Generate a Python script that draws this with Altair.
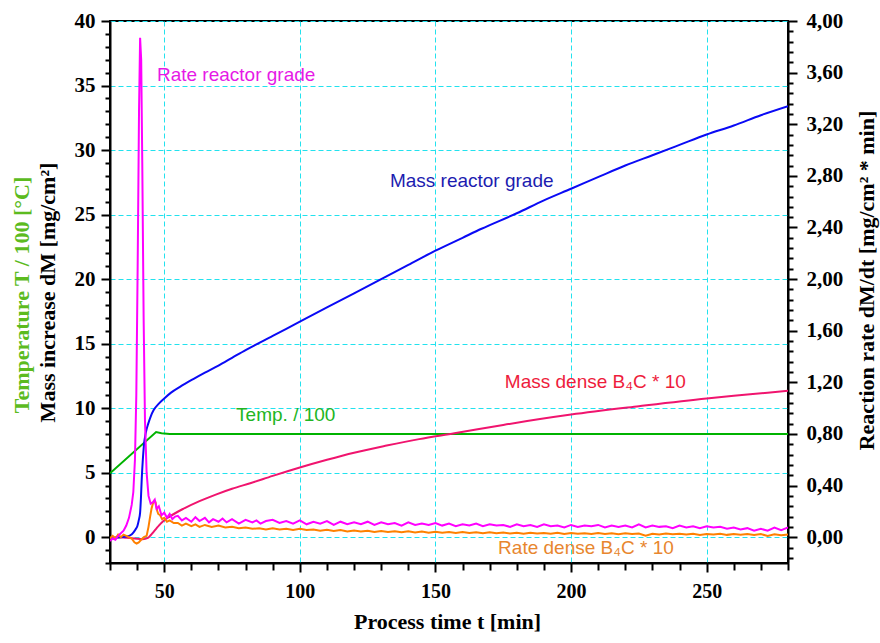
import altair as alt
import pandas as pd

# ---------------- data ----------------
# Mass reactor grade  [mg/cm^2]  (left axis)
MASS_RG = [(30, -0.1), (32, -0.05), (34, 0.0), (36, 0.05), (37.5, 0.15), (38.6, 0.36),
           (39.4, 0.6), (40.1, 0.87), (40.6, 1.3), (41.1, 1.9), (41.4, 3.0), (41.7, 4.5),
           (42.1, 6.0), (42.5, 7.1), (43.2, 8.1), (44.1, 8.8), (45, 9.35), (46.1, 9.85),
           (48, 10.35), (50, 10.75), (52.5, 11.2), (55.8, 11.65), (60.7, 12.25), (65, 12.75),
           (70, 13.3), (75, 13.9), (80, 14.5), (90, 15.6), (100, 16.7), (110, 17.8),
           (120, 18.9), (130, 20.0), (140, 21.1), (150, 22.2), (160, 23.2), (167, 23.9),
           (180, 25.1), (190, 26.1), (200, 27.0), (211, 28.0), (220, 28.8), (230, 29.6),
           (240, 30.4), (250, 31.2), (260, 31.9), (270, 32.7), (280, 33.4)]

# Temperature / 100 [°C]  (left axis)
TEMP = [(30, 4.95), (47, 8.15), (49, 8.05), (52, 8.0), (280, 8.0)]

# Mass dense B4C * 10  (left axis)
MASS_DENSE = [(30, -0.05), (33, 0.0), (36, -0.05), (39, -0.1), (42, -0.15), (44, -0.05),
              (45, 0.15), (46, 0.4), (47, 0.65), (48, 0.9), (49.7, 1.26), (52, 1.6),
              (57, 2.2), (63, 2.8), (69, 3.3), (75, 3.75), (82, 4.2), (90, 4.75),
              (100, 5.4), (110, 6.0), (120, 6.55), (132, 7.1), (144, 7.6), (157, 8.05),
              (175, 8.7), (200, 9.5), (225, 10.15), (250, 10.75), (265, 11.05), (280, 11.35)]

# Rate reactor grade [mg/cm^2*min]  (right axis)
RATE_RG = [(30, -0.03), (31, -0.01), (32, -0.02), (33, 0.01), (34, 0.03), (35, 0.05),
           (36, 0.09), (37, 0.15), (38, 0.25), (38.6, 0.35), (39.2, 0.6), (39.7, 1.1),
           (40.2, 2.1), (40.7, 3.3), (41.1, 3.87), (41.5, 3.7), (41.9, 2.9), (42.4, 1.7),
           (42.9, 0.9), (43.5, 0.5), (44.2, 0.32), (45, 0.26), (45.8, 0.27), (46.5, 0.29),
           (47.2, 0.22), (48, 0.24), (49, 0.17), (50, 0.19), (51, 0.15), (52, 0.18),
           (53, 0.14), (54, 0.16),
           (55, 0.165), (56.5, 0.13), (58, 0.15), (60, 0.12), (61.5, 0.155), (63, 0.125),
           (65, 0.15), (66.5, 0.115), (68, 0.14), (70, 0.12), (71.5, 0.145), (73, 0.115),
           (75, 0.14), (77.5, 0.105), (80, 0.135), (82.5, 0.115), (84, 0.13), (85.5, 0.105),
           (87.5, 0.125), (90, 0.135), (92.5, 0.11), (95, 0.125), (97.5, 0.105),
           (100, 0.13), (102.5, 0.10), (105, 0.12), (107.5, 0.105), (110, 0.125), (112.5, 0.095),
           (115, 0.12), (117.5, 0.10), (120, 0.115), (122.5, 0.10), (125, 0.12), (127.5, 0.095),
           (130, 0.115), (132.5, 0.10), (135, 0.11), (137.5, 0.09), (140, 0.115), (142.5, 0.095),
           (145, 0.105), (147.5, 0.095), (150, 0.11), (152.5, 0.09), (155, 0.105), (157.5, 0.085),
           (160, 0.10), (162.5, 0.09), (165, 0.105), (167.5, 0.085), (170, 0.10), (172.5, 0.09),
           (175, 0.095), (177.5, 0.08), (180, 0.10), (182.5, 0.085), (185, 0.095), (187.5, 0.08),
           (190, 0.10), (192.5, 0.085), (195, 0.09), (197.5, 0.075), (200, 0.095), (202.5, 0.08),
           (205, 0.09), (207.5, 0.085), (210, 0.095), (212.5, 0.075), (215, 0.09), (217.5, 0.08),
           (220, 0.09), (222.5, 0.075), (225, 0.10), (227.5, 0.075), (230, 0.09), (232.5, 0.08),
           (235, 0.085), (237.5, 0.07), (240, 0.09), (242.5, 0.075), (245, 0.085), (247.5, 0.07),
           (250, 0.085), (252.5, 0.075), (255, 0.08), (257.5, 0.065), (260, 0.075), (262.5, 0.06),
           (265, 0.07), (267.5, 0.05), (270, 0.065), (272.5, 0.05), (275, 0.075), (277.5, 0.055),
           (280, 0.075)]

# Rate dense B4C * 10  (right axis)
RATE_DENSE = [(30, -0.01), (31, 0.01), (32, -0.01), (33, 0.02), (34, 0.0), (35, 0.02),
              (36, 0.01), (37, 0.0), (38, -0.01), (39, -0.04), (39.8, -0.05), (40.6, -0.04),
              (41.5, -0.02), (42.5, 0.0), (43.5, 0.01), (44.2, 0.08), (44.8, 0.16), (45.3, 0.22),
              (45.8, 0.26), (46.3, 0.28), (46.8, 0.27), (47.3, 0.21), (47.8, 0.18), (48.5, 0.17),
              (49.2, 0.14), (50, 0.15), (51, 0.12), (52, 0.13), (53.5, 0.11),
              (55, 0.11), (56.5, 0.09), (58, 0.105), (60, 0.085), (61.5, 0.10), (63, 0.08),
              (65, 0.095), (67.5, 0.08), (70, 0.09), (72.5, 0.075), (75, 0.08), (77.5, 0.07),
              (80, 0.075), (82.5, 0.065), (85, 0.07), (87.5, 0.06), (90, 0.07), (92.5, 0.06),
              (95, 0.065), (97.5, 0.055),
              (100, 0.065), (102.5, 0.055), (105, 0.06), (107.5, 0.05), (110, 0.058), (112.5, 0.048),
              (115, 0.055), (117.5, 0.045), (120, 0.052), (122.5, 0.045), (125, 0.05), (127.5, 0.04),
              (130, 0.048), (132.5, 0.04), (135, 0.046), (137.5, 0.038), (140, 0.045), (142.5, 0.036),
              (145, 0.044), (147.5, 0.035), (150, 0.042), (152.5, 0.034), (155, 0.04), (157.5, 0.032),
              (160, 0.04), (162.5, 0.032), (165, 0.038), (167.5, 0.03), (170, 0.038), (172.5, 0.03),
              (175, 0.036), (177.5, 0.028), (180, 0.035), (182.5, 0.027), (185, 0.034), (187.5, 0.028),
              (190, 0.033), (192.5, 0.026), (195, 0.034), (197.5, 0.025), (200, 0.033), (202.5, 0.026),
              (205, 0.031), (207.5, 0.024), (210, 0.032), (212.5, 0.025), (215, 0.03), (217.5, 0.022),
              (220, 0.03), (222.5, 0.024), (225, 0.028), (227.5, 0.012), (230, 0.026), (232.5, 0.02),
              (235, 0.028), (237.5, 0.022), (240, 0.027), (242.5, 0.02), (245, 0.026), (247.5, 0.018),
              (250, 0.025), (252.5, 0.02), (255, 0.026), (257.5, 0.018), (260, 0.024), (262.5, 0.019),
              (265, 0.025), (267.5, 0.017), (270, 0.024), (272.5, 0.01), (275, 0.022), (277.5, 0.015),
              (280, 0.02)]

# annotation labels: (text, t, value on left axis, colour)
LABELS = [("Rate reactor grade", 47.3, 35.8, "#e619e6"),
          ("Mass reactor grade", 133.2, 27.6, "#1c1cb0"),
          ("Temp. / 100", 76.5, 9.5, "#22b522"),
          ("Mass dense B\u2084C * 10", 175.6, 12.0, "#ee1c3c"),
          ("Rate dense B\u2084C * 10", 173.1, -0.85, "#e8862e")]

X_TICKS = list(range(30, 281, 10))
Y_LEFT_TICKS = list(range(-2, 41))
Y_RIGHT_TICKS = [round(-0.16 + 0.08 * i, 2) for i in range(53)]

X_TITLE = "Process time t [min]"
Y_LEFT_TITLE = "Mass increase dM  [mg/cm\u00b2]"
Y_TEMP_TITLE = "Temperature T / 100 [\u00b0C]"
Y_RIGHT_TITLE = "Reaction rate dM/dt [mg/cm\u00b2 * min]"

# ---------------- styling ----------------
SERIF = "Liberation Serif"
SANS = "Liberation Sans"
GRID = "#22e2ee"
W, H = 678, 542


def frame(pairs):
    return pd.DataFrame(pairs, columns=["t", "v"])


x_major = "datum.value % 50 === 0"
y_major = "datum.value % 5 === 0"
r_major = "abs(datum.value * 2.5 - round(datum.value * 2.5)) < 0.001"

X_ENC = alt.X("t:Q",
              scale=alt.Scale(domain=[30, 280], nice=False, zero=False),
              axis=alt.Axis(values=X_TICKS, title=X_TITLE,
                            labelExpr=f"{x_major} ? format(datum.value, 'd') : ''",
                            tickSize={"condition": {"test": x_major, "value": 9}, "value": 7},
                            grid=True, gridColor=GRID, gridDash=[5, 3], gridWidth=1,
                            gridOpacity={"condition": {"test": x_major, "value": 1}, "value": 0},
                            labelPadding=9, labelFontSize=20, titleX=337, titleY=58,
                            titleBaseline="middle", titleAlign="center"))

Y_LEFT_ENC = alt.Y("v:Q",
                   scale=alt.Scale(domain=[-2, 40], nice=False, zero=False),
                   axis=alt.Axis(orient="left", values=Y_LEFT_TICKS, title=Y_LEFT_TITLE,
                                 labelExpr=f"{y_major} ? format(datum.value, 'd') : ''",
                                 tickSize={"condition": {"test": y_major, "value": 9}, "value": 5},
                                 grid=True, gridColor=GRID, gridDash=[5, 3], gridWidth=1,
                                 gridOpacity={"condition": {"test": y_major, "value": 1}, "value": 0},
                                 labelPadding=6, titleX=-63, titleY=271, titleAngle=270,
                                 titleBaseline="middle", titleAlign="center"))

Y_RIGHT_ENC = alt.Y("v:Q",
                    scale=alt.Scale(domain=[-0.2, 4.0], nice=False, zero=False),
                    axis=alt.Axis(orient="right", values=Y_RIGHT_TICKS, title=Y_RIGHT_TITLE,
                                  labelExpr=f"{r_major} ? replace(format(datum.value, '.2f'), '.', ',') : ''",
                                  tickSize={"condition": {"test": r_major, "value": 9}, "value": 5},
                                  grid=False, labelPadding=9,
                                  titleX=78, titleY=259, titleAngle=270,
                                  titleBaseline="middle", titleAlign="center"))


def line(pairs, color, yenc, smooth=False):
    kw = {"interpolate": "monotone"} if smooth else {}
    return alt.Chart(frame(pairs)).mark_line(color=color, strokeWidth=2, clip=True, **kw).encode(
        x=X_ENC, y=yenc)


left_layers = [
    line(TEMP, "#00b300", Y_LEFT_ENC),
    line(MASS_DENSE, "#f0146e", Y_LEFT_ENC, smooth=True),
    line(MASS_RG, "#0a0af5", Y_LEFT_ENC, smooth=True),
]
for text, t, v, col in LABELS:
    left_layers.append(
        alt.Chart(pd.DataFrame({"t": [t], "v": [v], "label": [text]}))
        .mark_text(align="left", baseline="middle", font=SANS, fontSize=19, color=col)
        .encode(x=X_ENC, y=Y_LEFT_ENC, text="label:N"))

temp_title = alt.Chart(pd.DataFrame({"label": [Y_TEMP_TITLE]})).mark_text(
    angle=270, align="center", baseline="middle", font=SERIF, fontSize=22,
    fontWeight="bold", color="#5cbb1f").encode(
    x=alt.value(-88), y=alt.value(274), text="label:N")
left_layers.append(temp_title)

left = alt.layer(*left_layers)
right = alt.layer(
    line(RATE_DENSE, "#ff8000", Y_RIGHT_ENC),
    line(RATE_RG, "#ff00ff", Y_RIGHT_ENC),
)

chart = (alt.layer(left, right)
         .resolve_scale(y="independent")
         .properties(width=W, height=H,
                     autosize=alt.AutoSizeParams(type="none"),
                     padding={"left": 110, "top": 21, "right": 92, "bottom": 80},
                     background="white")
         .configure_view(stroke="black", strokeWidth=2)
         .configure_axis(domainColor="black", domainWidth=2, tickColor="black", tickWidth=2,
                         labelFont=SERIF, labelFontSize=21, labelFontWeight="bold",
                         labelColor="black", titleFont=SERIF, titleFontSize=22,
                         titleFontWeight="bold", titleColor="black"))

chart.save("out.html", embed_options={"renderer": "svg", "actions": False})
